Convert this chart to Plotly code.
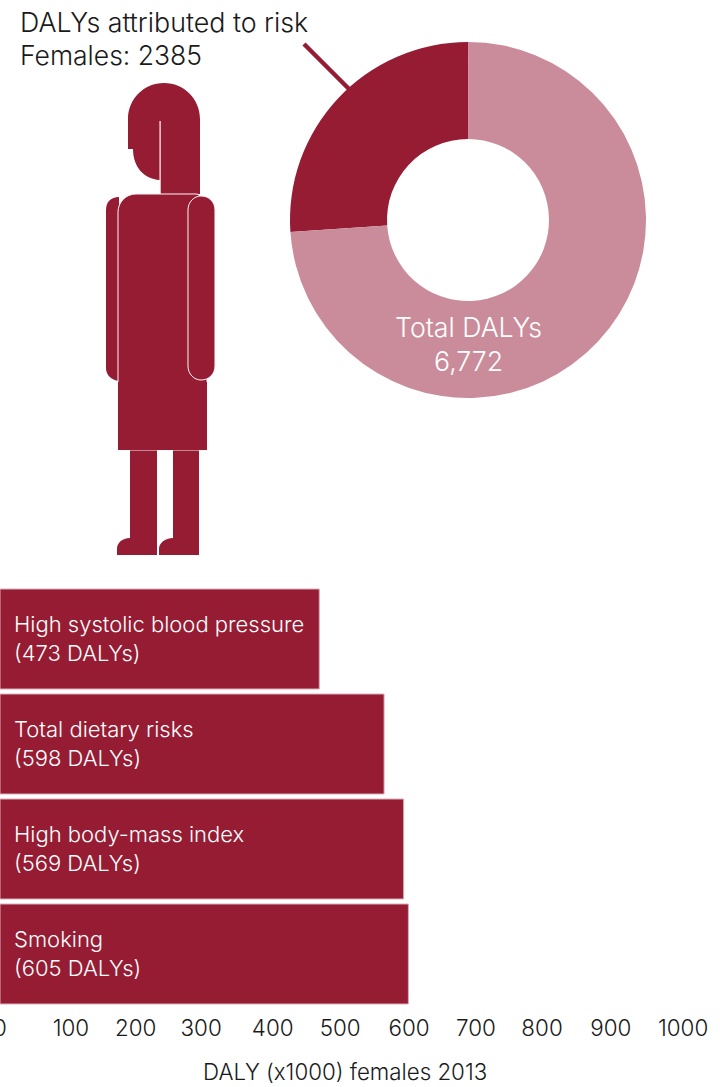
import plotly.graph_objects as go

W, H = 720, 1087
FONT = "Inter"
WEIGHT = 300
DARK = "#961C33"
LIGHT = "#CA8C9A"
EDGE = "#FDF6F7"
TEXT = "#1A1A1A"

risk_names = ["High systolic blood pressure", "Total dietary risks", "High body-mass index", "Smoking"]
risk_labels = [473, 598, 569, 605]
bar_lengths = [473, 569, 598, 605]
tick_places = [0, 105, 201, 298, 404, 504, 606, 705, 803, 905, 1012]
tick_labels = ["0", "100", "200", "300", "400", "500", "600", "700", "800", "900", "1000"]
donut_names = ["Attributed", "Other"]
donut_values = [1767, 5005]
title_lines = ["DALYs attributed to risk", "Females: 2385"]
donut_lines = ["Total DALYs", "6,772"]
axis_title = "DALY (x1000) females 2013"


def px(x):
    return x / W


def py(y):
    return (H - y) / H


def path(*items):
    out = []
    for it in items:
        if isinstance(it, str):
            out.append(it)
        else:
            out.append(f"{px(it[0]):.5f},{py(it[1]):.5f}")
    return " ".join(out)


def silhouette(d, line=None):
    return dict(type="path", xref="paper", yref="paper", path=d, fillcolor=DARK,
                line=dict(color=line or DARK, width=1 if line else 0), layer="above")


def font(size, color=TEXT):
    return dict(family=FONT, size=size, color=color, weight=WEIGHT)


shapes = [
    # left arm
    silhouette(path("M", (119, 197), "L", (119, 381), "C", (111, 380), (106, 375), (106, 368),
                    "L", (106, 210), "C", (106, 202), (111, 197), (119, 197), "Z")),
    # legs and feet
    silhouette(path("M", (130, 445), "L", (157, 445), "L", (157, 555), "L", (117, 555), "L", (117, 549),
                    "C", (117, 543), (122, 538), (130, 538), "Z")),
    silhouette(path("M", (173, 445), "L", (199, 445), "L", (199, 555), "L", (159, 555), "L", (159, 549),
                    "C", (159, 543), (165, 538), (173, 538), "Z")),
    # hair and neck
    silhouette(path("M", (128, 149), "L", (128, 119), "C", (128, 99), (144, 83), (164, 83),
                    "C", (184, 83), (200, 99), (200, 119), "L", (200, 194), "L", (160.7, 194),
                    "L", (160.7, 121), "L", (159.5, 121), "L", (159.5, 180),
                    "C", (144, 179), (133, 167), (133, 149), "Z")),
    # torso and skirt
    silhouette(path("M", (118, 450), "L", (118, 212), "C", (118, 202), (126, 194), (136, 194),
                    "L", (197, 194), "L", (207, 200), "L", (207, 450), "Z"), EDGE),
    silhouette(path("M", (118, 450), "L", (207, 450), "L", (207, 382), "L", (118, 382), "Z")),
    # right arm
    silhouette(path("M", (188, 210), "C", (188, 202), (194, 196), (201, 196), "C", (209, 196), (215, 202), (215, 210),
                    "L", (215, 366), "C", (215, 374), (209, 380), (201, 380), "C", (194, 380), (188, 374), (188, 366), "Z"), EDGE),
    # leader line
    dict(type="line", xref="paper", yref="paper", x0=px(304), y0=py(44), x1=px(349), y1=py(89),
         line=dict(color=DARK, width=4.5), layer="above"),
]

fig = go.Figure()

fig.add_trace(go.Bar(
    x=bar_lengths, y=risk_names, orientation="h", width=100 / 105,
    marker=dict(color=DARK, line=dict(color="#D9AEB8", width=1)),
    hoverinfo="skip", showlegend=False,
))

fig.add_trace(go.Pie(
    labels=donut_names, values=donut_values, hole=81 / 178, sort=False,
    direction="clockwise", rotation=-93.9, textinfo="none", hoverinfo="skip",
    marker=dict(colors=[DARK, LIGHT], line=dict(width=0)), showlegend=False,
    domain=dict(x=[px(290), px(646)], y=[py(398), py(42)]),
))


def one_line(text, x, y, anchor, size, color=TEXT):
    return dict(text=text, xref="paper", yref="paper", x=px(x), y=py(y), xanchor=anchor, yanchor="middle",
                showarrow=False, font=font(size, color))


annotations = [
    one_line(title_lines[0], 17.5, 22, "left", 26.8),
    one_line(title_lines[1], 17.5, 55, "left", 26.5),
    one_line(donut_lines[0], 468, 327, "center", 26.7, "#FFFFFF"),
    one_line(donut_lines[1], 468, 361, "center", 26.7, "#FFFFFF"),
    one_line(axis_title, 344.5, 1071, "center", 22.3),
]
for name, value in zip(risk_names, risk_labels):
    annotations.append(dict(
        text=f"{name}<br>({value} DALYs)", xref="x", yref="y", x=0, y=name, xshift=12, yshift=1, xanchor="left",
        yanchor="middle", align="left", showarrow=False, font=font(22, "#FFFFFF"),
    ))

fig.update_layout(
    width=W, height=H, margin=dict(l=0, r=0, t=0, b=0), autosize=False,
    paper_bgcolor="white", plot_bgcolor="white", shapes=shapes, annotations=annotations,
    font=dict(family=FONT, color=TEXT),
    xaxis=dict(domain=[0, 1], range=[0, W / 0.675], tickmode="array", tickvals=tick_places, ticktext=tick_labels,
               tickfont=font(22.4), showgrid=False, zeroline=False, showline=False,
               ticks="outside", ticklen=2, tickcolor="rgba(0,0,0,0)", ticklabeloverflow="allow", automargin=False),
    yaxis=dict(domain=[py(1006.5), py(586.5)], range=[3.5, -0.5], type="category", categoryorder="array",
               categoryarray=risk_names, showticklabels=False, showgrid=False, zeroline=False, showline=False,
               ticks="", automargin=False),
)

fig.write_html("out.html", config={"displayModeBar": False},
               post_script="document.body.style.margin='0';document.documentElement.style.overflow='hidden';")
